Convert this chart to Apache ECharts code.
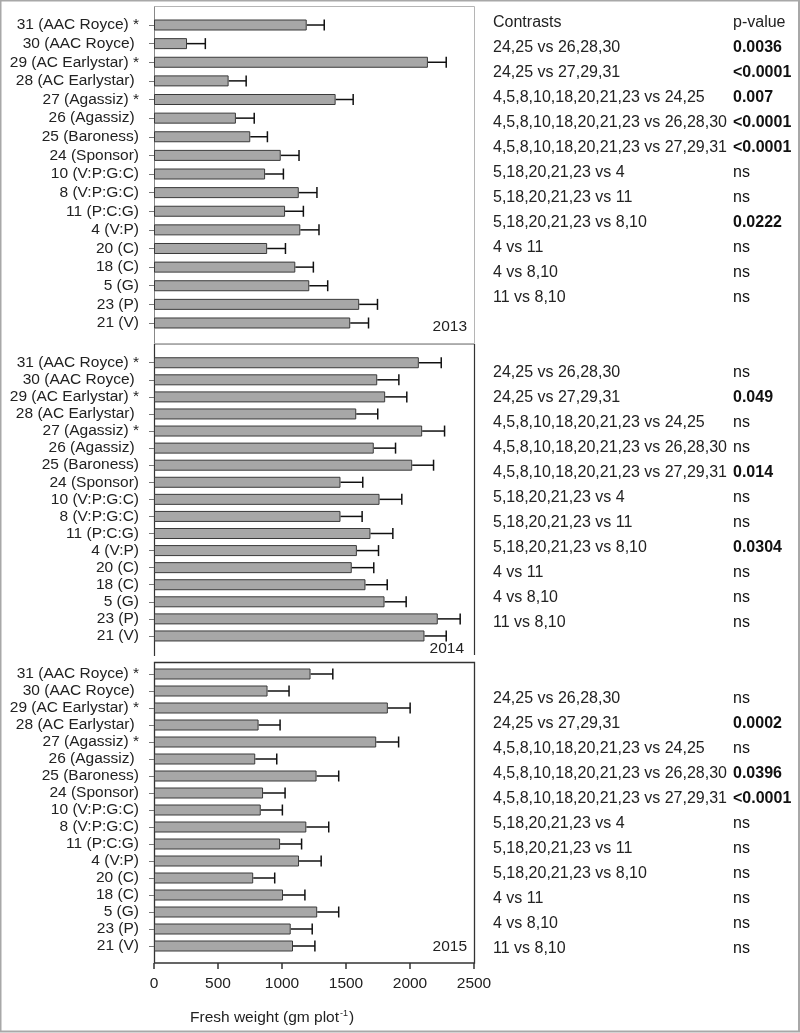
<!DOCTYPE html>
<html>
<head>
<meta charset="utf-8">
<script src="https://cdn.jsdelivr.net/npm/echarts@6/dist/echarts.min.js"></script>
<style>
  html, body { margin: 0; padding: 0; background: #fff; }
  #chart { width: 800px; height: 1033px; }
</style>
</head>
<body>
<div id="chart"></div>
<script>
// treatments, top to bottom
var treatments = ['31 (AAC Royce) *', '30 (AAC Royce) ', '29 (AC Earlystar) *', '28 (AC Earlystar) ',
  '27 (Agassiz) *', '26 (Agassiz) ', '25 (Baroness)', '24 (Sponsor)', '10 (V:P:G:C)', '8 (V:P:G:C)',
  '11 (P:C:G)', '4 (V:P)', '20 (C)', '18 (C)', '5 (G)', '23 (P)', '21 (V)'];

var years = ['2013', '2014', '2015'];

var mean2013 = [1193, 258, 2140, 583, 1419, 640, 752, 990, 868, 1131, 1024, 1143, 884, 1104, 1213, 1603, 1533];
var se2013 = [137, 143, 143, 137, 137, 143, 134, 143, 143, 142, 143, 146, 143, 141, 144, 143, 143];

var mean2014 = [2069, 1744, 1806, 1580, 2095, 1717, 2017, 1457, 1762, 1457, 1691, 1585, 1545, 1652, 1801, 2217, 2113];
var se2014 = [175, 169, 169, 168, 175, 170, 167, 174, 174, 169, 175, 169, 172, 170, 169, 175, 170];

var mean2015 = [1223, 887, 1827, 817, 1736, 791, 1270, 852, 834, 1190, 985, 1133, 775, 1008, 1275, 1068, 1086];
var se2015 = [174, 168, 174, 168, 175, 168, 173, 172, 169, 175, 168, 173, 168, 171, 168, 168, 171];

var xTicks = [0, 500, 1000, 1500, 2000, 2500];

var contrasts = ['24,25 vs 26,28,30', '24,25 vs 27,29,31', '4,5,8,10,18,20,21,23 vs 24,25',
  '4,5,8,10,18,20,21,23 vs 26,28,30', '4,5,8,10,18,20,21,23 vs 27,29,31', '5,18,20,21,23 vs 4',
  '5,18,20,21,23 vs 11', '5,18,20,21,23 vs 8,10', '4 vs 11', '4 vs 8,10', '11 vs 8,10'];
var p2013 = ['0.0036', '<0.0001', '0.007', '<0.0001', '<0.0001', 'ns', 'ns', '0.0222', 'ns', 'ns', 'ns'];
var p2014 = ['ns', '0.049', 'ns', 'ns', '0.014', 'ns', 'ns', '0.0304', 'ns', 'ns', 'ns'];
var p2015 = ['ns', '0.0002', 'ns', '0.0396', '<0.0001', 'ns', 'ns', 'ns', 'ns', 'ns', 'ns'];

var means = [mean2013, mean2014, mean2015];
var ses = [se2013, se2014, se2015];
var pvals = [p2013, p2014, p2015];

// layout of the three panels
var FONT = "'Liberation Sans', Arial, sans-serif";
var L = 154, W = 320;
var layout = [
  { top: 15.7, height: 316.6, rowY: 48, yearY: 327, yearX: 467 },
  { top: 354.2, height: 290.3, rowY: 373, yearY: 649, yearX: 464 },
  { top: 665.5, height: 289, rowY: 699, yearY: 947, yearX: 467 }
];

var chart = echarts.init(document.getElementById('chart'), null, { renderer: 'canvas' });

var grids = [], xAxes = [], yAxes = [], series = [], graphics = [];

layout.forEach(function (g, i) {
  var last = i === 2;
  grids.push({ left: L, width: W, top: g.top, height: g.height });
  xAxes.push({
    type: 'value', gridIndex: i, min: 0, max: 2500, interval: 500, show: last,
    offset: 8.5,
    axisLine: { show: false },
    axisTick: { show: true, inside: false, length: 6, lineStyle: { color: '#333', width: 1.5 } },
    axisLabel: { show: true, margin: 13, color: '#222', fontSize: 15.5, fontFamily: FONT,
      formatter: function (v) { return xTicks.indexOf(v) >= 0 ? String(v) : ''; } },
    splitLine: { show: false }
  });
  yAxes.push({
    type: 'category', gridIndex: i, data: treatments, inverse: true,
    axisLine: { show: false },
    axisTick: { show: true, alignWithLabel: true, interval: 0, length: 5, lineStyle: { color: '#777' } },
    axisLabel: { interval: 0, margin: 15, color: '#222', fontSize: 15.5, fontFamily: FONT }
  });
  series.push({
    type: 'bar', xAxisIndex: i, yAxisIndex: i, barWidth: 11,
    data: means[i],
    itemStyle: { color: '#a7a7a7', borderColor: '#3a3a3a', borderWidth: 1 },
    silent: true, animation: false
  });
  series.push({
    type: 'custom', xAxisIndex: i, yAxisIndex: i,
    data: means[i].map(function (m, k) { return [m, treatments[k], m + ses[i][k]]; }),
    encode: { x: 0, y: 1 },
    renderItem: function (params, api) {
      var a = api.coord([api.value(0), api.value(1)]);
      var b = api.coord([api.value(2), api.value(1)]);
      var st = { stroke: '#111', lineWidth: 1.5 };
      return {
        type: 'group',
        children: [
          { type: 'line', shape: { x1: a[0], y1: a[1], x2: b[0], y2: b[1] }, style: st },
          { type: 'line', shape: { x1: b[0], y1: b[1] - 5.5, x2: b[0], y2: b[1] + 5.5 }, style: st }
        ]
      };
    },
    silent: true, animation: false
  });

  // year label
  graphics.push({ type: 'text', style: { text: years[i], x: g.yearX, y: g.yearY, align: 'right',
    verticalAlign: 'middle', fontSize: 15.5, fontFamily: FONT, fill: '#222' } });

  // contrast table
  contrasts.forEach(function (c, r) {
    var y = g.rowY + r * 24.95;
    graphics.push({ type: 'text', style: { text: c, x: 493, y: y, verticalAlign: 'middle',
      fontSize: 16, fontFamily: FONT, fill: '#222' } });
    var p = pvals[i][r];
    graphics.push({ type: 'text', style: { text: p, x: 733, y: y, verticalAlign: 'middle',
      fontSize: 16, fontFamily: FONT, fontWeight: p === 'ns' ? 'normal' : 'bold', fill: '#111' } });
  });
});

// table header
graphics.push({ type: 'text', style: { text: 'Contrasts', x: 493, y: 23, verticalAlign: 'middle',
  fontSize: 16, fontFamily: FONT, fill: '#222' } });
graphics.push({ type: 'text', style: { text: 'p-value', x: 733, y: 23, verticalAlign: 'middle',
  fontSize: 16, fontFamily: FONT, fill: '#222' } });

// panel frames
graphics.push({ type: 'rect', shape: { x: L + 0.5, y: 6.5, width: W, height: 337 },
  style: { fill: 'none', stroke: '#b5b5b5', lineWidth: 1 } });
graphics.push({ type: 'line', shape: { x1: L + 0.5, y1: 6.5, x2: L + 0.5, y2: 343.5 },
  style: { stroke: '#888', lineWidth: 1 } });
graphics.push({ type: 'line', shape: { x1: L, y1: 344.5, x2: L + W, y2: 344.5 },
  style: { stroke: '#aaa', lineWidth: 1 } });
graphics.push({ type: 'line', shape: { x1: L + 0.5, y1: 344, x2: L + 0.5, y2: 656 },
  style: { stroke: '#333', lineWidth: 1.2 } });
graphics.push({ type: 'line', shape: { x1: L + W + 0.5, y1: 344, x2: L + W + 0.5, y2: 655 },
  style: { stroke: '#333', lineWidth: 1.2 } });
graphics.push({ type: 'rect', shape: { x: L + 0.5, y: 662.5, width: W, height: 300.5 },
  style: { fill: 'none', stroke: '#333', lineWidth: 1.3 } });

// axis title with superscript
graphics.push({ type: 'text', style: {
  text: '{a|Fresh weight (gm plot}{s|-1}{a|)}', x: 190, y: 1018, verticalAlign: 'middle',
  rich: {
    a: { fontSize: 15.5, fontFamily: FONT, fill: '#222', lineHeight: 18 },
    s: { fontSize: 9, fontFamily: FONT, fill: '#222', lineHeight: 18, verticalAlign: 'top', padding: [0, 1, 0, 1] }
  } } });

// outer border
graphics.push({ type: 'rect', shape: { x: 0.5, y: 0.5, width: 798.5, height: 1031 },
  style: { fill: 'none', stroke: '#a8a8a8', lineWidth: 2 } });

chart.setOption({
  backgroundColor: '#fff',
  animation: false,
  grid: grids,
  xAxis: xAxes,
  yAxis: yAxes,
  series: series,
  graphic: { elements: graphics }
});
</script>
</body>
</html>
